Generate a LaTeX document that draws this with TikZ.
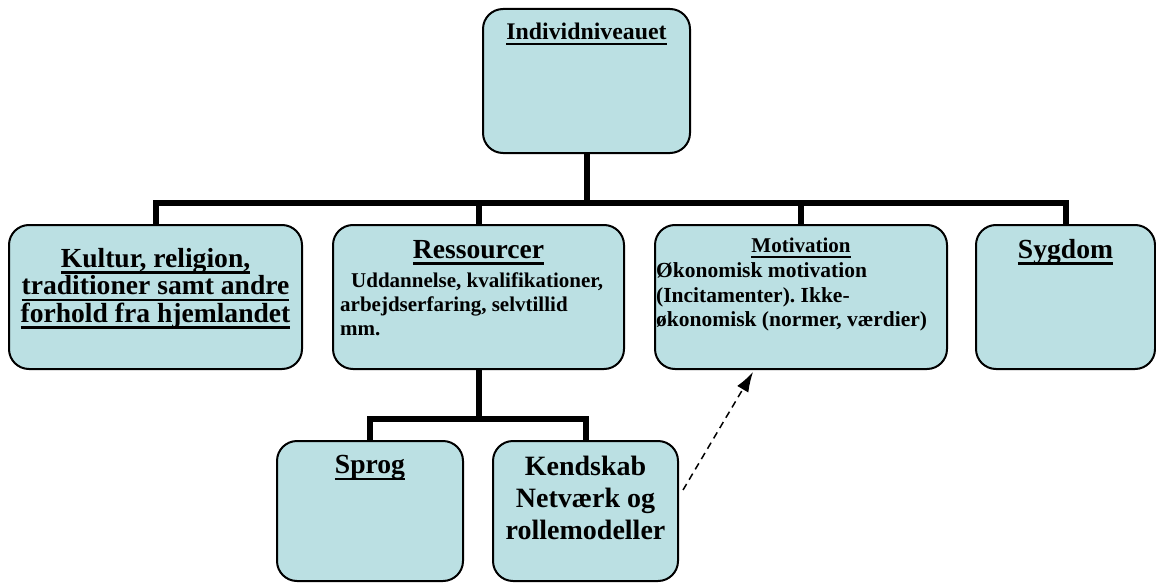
\documentclass[tikz,border=0pt]{standalone}
\usepackage{fontspec}
\setmainfont{Liberation Serif}
\usetikzlibrary{positioning,calc,arrows.meta}
\definecolor{boxfill}{HTML}{BBE0E3}
\frenchspacing
\newcommand\undl[1]{\setbox0=\hbox{#1}\rlap{\rule[-0.24em]{\wd0}{0.09em}}\box0}
\tikzset{
  box/.style={draw,line width=2pt,rounded corners=20pt,fill=boxfill,inner sep=0pt},
  big/.style={inner sep=0pt,font=\fontsize{27.6}{27.5}\selectfont\bfseries},
  small/.style={inner sep=0pt,font=\fontsize{21}{24}\selectfont\bfseries},
  conn/.style={line width=6pt,line join=miter},
}
\begin{document}
\begin{tikzpicture}[x=1pt,y=-1pt,>={Latex[length=20pt,width=13pt]}]
\useasboundingbox (0,0) rectangle (1156,583);
% boxes
\node[box,minimum width=207pt,minimum height=144pt](ind) at (586.5,81){};
\node[box,minimum width=293pt,minimum height=144pt](kul) at (155.5,297){};
\node[box,minimum width=291pt,minimum height=144pt](res) at (478.5,297){};
\node[box,minimum width=292pt,minimum height=144pt](mot) at (801,297){};
\node[box,minimum width=179pt,minimum height=144pt](syg) at (1065.5,297){};
\node[box,minimum width=186pt,minimum height=140pt](spr) at (370,511){};
\node[box,minimum width=185pt,minimum height=140pt](ken) at (585.5,511){};
% texts
\node[big,font=\fontsize{23.8}{26}\selectfont\bfseries,below=15pt of ind.north](indt){\undl{Individniveauet}};
\node[big,align=center,below=24pt of kul.north](kult){\undl{Kultur, religion,}\\\undl{traditioner samt andre}\\\undl{forhold fra hjemlandet}};
\node[big,below=16pt of res.north](rest){\undl{Ressourcer}};
\node[small,align=left,below right=49pt and 8pt of res.north west](resb){\hspace*{11pt}Uddannelse, kvalifikationer,\\arbejdserfaring, selvtillid\\mm.};
\node[small,below=14pt of mot.north](mott){\undl{Motivation}};
\node[small,font=\fontsize{21.5}{24.5}\selectfont\bfseries,align=left,below right=38.5pt and 2pt of mot.north west](motb){Økonomisk motivation\\(Incitamenter). Ikke-\\økonomisk (normer, værdier)};
\node[big,below=15pt of syg.north](sygt){\undl{Sygdom}};
\node[big,below=15pt of spr.north](sprt){\undl{Sprog}};
\node[big,font=\fontsize{28}{32}\selectfont\bfseries,align=center,below=16pt of ken.north](kent){Kendskab\\Netværk og\\rollemodeller};
% connectors
\draw[conn](ind.south)--++(0,49)coordinate(top);
\draw[conn](kul.north)|-(top)-|(syg.north);
\draw[conn](res.north)--(res.north|-top);
\draw[conn](mot.north)--(mot.north|-top);
\draw[conn](res.south)--++(0,49)coordinate(mid);
\draw[conn](spr.north)|-(mid)-|(ken.north);
\draw[->,line width=1.5pt,dash pattern=on 7pt off 5pt]($(ken.east)+(4,-21)$)--($(mot.south)+(-48,2)$);
\end{tikzpicture}
\end{document}
